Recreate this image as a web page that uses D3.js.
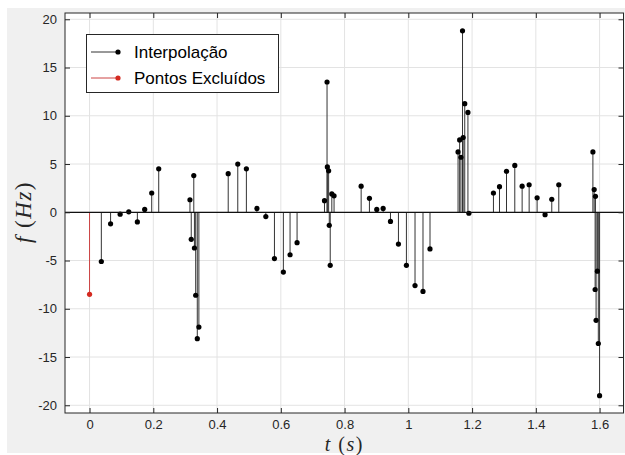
<!DOCTYPE html>
<html>
<head>
<meta charset="utf-8">
<script src="https://cdn.jsdelivr.net/npm/d3@7"></script>
<style>
  body { margin: 0; background: #fff; }
  text { font-family: "Liberation Sans", Arial, sans-serif; }
</style>
</head>
<body>
<div id="chart"></div>
<script>
// Interpolated points (black stems)
var interpT = [0.037, 0.066, 0.096, 0.123, 0.150, 0.173, 0.195, 0.217,
  0.315, 0.319, 0.327, 0.329, 0.333, 0.338, 0.343,
  0.435, 0.465, 0.492, 0.525, 0.553, 0.580, 0.608, 0.629, 0.651,
  0.737, 0.745, 0.746, 0.750, 0.752, 0.755, 0.760, 0.767,
  0.852, 0.878, 0.901, 0.921, 0.944, 0.969, 0.994, 1.021, 1.046, 1.068,
  1.156, 1.161, 1.165, 1.170, 1.172, 1.177, 1.187, 1.190,
  1.267, 1.286, 1.308, 1.334, 1.357, 1.379, 1.404, 1.429, 1.450, 1.472,
  1.579, 1.583, 1.586, 1.587, 1.589, 1.593, 1.596, 1.600];
var interpF = [-5.1, -1.2, -0.2, 0.05, -1.0, 0.3, 2.0, 4.5,
  1.3, -2.8, 3.8, -3.7, -8.6, -13.1, -11.9,
  4.0, 5.0, 4.5, 0.4, -0.45, -4.8, -6.2, -4.4, -3.15,
  1.2, 13.5, 4.7, 4.3, -1.35, -5.5, 1.9, 1.7,
  2.7, 1.45, 0.3, 0.4, -0.95, -3.3, -5.5, -7.6, -8.2, -3.8,
  6.25, 7.5, 5.7, 18.8, 7.75, 11.25, 10.35, -0.1,
  2.0, 2.65, 4.25, 4.85, 2.7, 2.85, 1.5, -0.25, 1.35, 2.85,
  6.25, 2.35, -8.0, 1.65, -11.2, -6.1, -13.6, -19.0];

// Excluded points (red stems)
var exclT = [0];
var exclF = [-8.5];

var xTicks = [0, 0.2, 0.4, 0.6, 0.8, 1, 1.2, 1.4, 1.6];
var yTicks = [-20, -15, -10, -5, 0, 5, 10, 15, 20];
var legendLabels = ["Interpolação", "Pontos Excluídos"];

var W = 625, H = 455;
var axL = 65, axR = 623.5, axT = 13, axB = 413;

var svg = d3.select('#chart').append('svg')
  .attr('width', W).attr('height', H);

// figure background
svg.append('rect')
  .attr('x', 7).attr('y', 8)
  .attr('width', W - 7).attr('height', 445)
  .attr('fill', '#f0f0f0');

svg.append('rect')
  .attr('x', axL).attr('y', axT)
  .attr('width', axR - axL).attr('height', axB - axT)
  .attr('fill', '#fff');

var x = d3.scaleLinear().domain([-0.077, 1.675]).range([axL, axR]);
var y = d3.scaleLinear().domain([-20.8, 20.65]).range([axB, axT]);

// grid
var grid = svg.append('g').attr('stroke', '#e3e3e3').attr('stroke-width', 1);
grid.selectAll('.gx').data(xTicks).enter().append('line')
  .attr('x1', function(d) { return x(d); }).attr('x2', function(d) { return x(d); })
  .attr('y1', axT).attr('y2', axB);
grid.selectAll('.gy').data(yTicks).enter().append('line')
  .attr('x1', axL).attr('x2', axR)
  .attr('y1', function(d) { return y(d); }).attr('y2', function(d) { return y(d); });

// stems
function stems(ts, fs, lineColor, dotColor) {
  var data = ts.map(function(t, i) { return { t: t, f: fs[i] }; });
  var g = svg.append('g');
  g.selectAll('line').data(data).enter().append('line')
    .attr('x1', function(d) { return x(d.t); })
    .attr('x2', function(d) { return x(d.t); })
    .attr('y1', y(0))
    .attr('y2', function(d) { return y(d.f); })
    .attr('stroke', lineColor).attr('stroke-width', 1);
  g.selectAll('circle').data(data).enter().append('circle')
    .attr('cx', function(d) { return x(d.t); })
    .attr('cy', function(d) { return y(d.f); })
    .attr('r', 2.6)
    .attr('fill', dotColor);
}
stems(interpT, interpF, '#333', '#000');
stems(exclT, exclF, '#c44', '#d42a20');

// baseline
svg.append('line')
  .attr('x1', axL).attr('x2', axR)
  .attr('y1', y(0)).attr('y2', y(0))
  .attr('stroke', '#111').attr('stroke-width', 1.2);

// axes
function styleAxis(g) {
  g.select('.domain').remove();
  g.selectAll('.tick line').attr('stroke', '#262626');
  g.selectAll('.tick text').attr('fill', '#262626').style('font-size', '13px');
}
var fmt = function(d) { return String(d); };

svg.append('g').attr('transform', 'translate(0,' + axB + ')')
  .call(d3.axisBottom(x).tickValues(xTicks).tickFormat(fmt)
    .tickSizeInner(-5).tickSizeOuter(0).tickPadding(7))
  .call(styleAxis);
svg.append('g').attr('transform', 'translate(0,' + axT + ')')
  .call(d3.axisTop(x).tickValues(xTicks).tickFormat('')
    .tickSizeInner(-5).tickSizeOuter(0))
  .call(styleAxis);
svg.append('g').attr('transform', 'translate(' + axL + ',0)')
  .call(d3.axisLeft(y).tickValues(yTicks).tickFormat(fmt)
    .tickSizeInner(-5).tickSizeOuter(0).tickPadding(8))
  .call(styleAxis);
svg.append('g').attr('transform', 'translate(' + axR + ',0)')
  .call(d3.axisRight(y).tickValues(yTicks).tickFormat('')
    .tickSizeInner(-5).tickSizeOuter(0))
  .call(styleAxis);

svg.append('rect')
  .attr('x', axL).attr('y', axT)
  .attr('width', axR - axL).attr('height', axB - axT)
  .attr('fill', 'none').attr('stroke', '#262626').attr('stroke-width', 1);

// axis labels (LaTeX style)
var xl = svg.append('text')
  .attr('x', (axL + axR) / 2).attr('y', 450.5)
  .attr('text-anchor', 'middle')
  .style('font-family', '"Liberation Serif", "Times New Roman", serif')
  .style('font-size', '20px').style('letter-spacing', '1.5px').attr('fill', '#262626');
xl.append('tspan').style('font-style', 'italic').text('t');
xl.append('tspan').text(' (');
xl.append('tspan').style('font-style', 'italic').text('s');
xl.append('tspan').text(')');

var yl = svg.append('text')
  .attr('transform', 'translate(31,212) rotate(-90)')
  .attr('text-anchor', 'middle')
  .style('font-family', '"Liberation Serif", "Times New Roman", serif')
  .style('font-size', '23px').style('letter-spacing', '1.5px').attr('fill', '#262626');
yl.append('tspan').style('font-style', 'italic').text('f');
yl.append('tspan').text(' (');
yl.append('tspan').style('font-style', 'italic').text('Hz');
yl.append('tspan').text(')');

// legend
var leg = svg.append('g');
leg.append('rect')
  .attr('x', 86.5).attr('y', 34.5).attr('width', 192).attr('height', 58)
  .attr('fill', '#fff').attr('stroke', '#262626').attr('stroke-width', 1);
var legColors = [['#333', '#000'], ['#c44', '#d42a20']];
legendLabels.forEach(function(lab, i) {
  var ly = 52 + i * 26;
  leg.append('line').attr('x1', 91).attr('x2', 118).attr('y1', ly).attr('y2', ly)
    .attr('stroke', legColors[i][0]).attr('stroke-width', 1);
  leg.append('circle').attr('cx', 118).attr('cy', ly).attr('r', 2.6)
    .attr('fill', legColors[i][1]);
  leg.append('text').attr('x', 134).attr('y', ly).attr('dy', '0.35em')
    .style('font-size', '17px').attr('fill', '#000').text(lab);
});
</script>
</body>
</html>
